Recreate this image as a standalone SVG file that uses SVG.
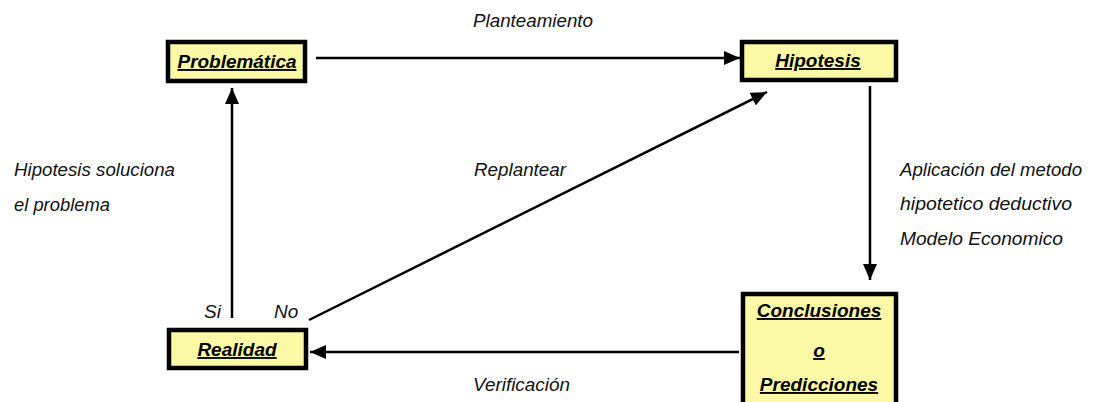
<svg xmlns="http://www.w3.org/2000/svg" width="1095" height="402" viewBox="0 0 1095 402">
<style>
.box{fill:#fbf8a6;stroke:#000;stroke-width:4.5}
.nt{font-family:"Liberation Sans",Arial,sans-serif;font-weight:bold;font-style:italic;font-size:19px;text-decoration:underline;fill:#000;text-anchor:middle}
.lb{font-family:"Liberation Sans",Arial,sans-serif;font-style:italic;font-size:19px;fill:#111}
.ln{stroke:#000;stroke-width:2.5;fill:none}
</style>
<defs>
<marker id="ah" viewBox="0 0 16 14" refX="16" refY="7" markerWidth="16" markerHeight="14" markerUnits="userSpaceOnUse" orient="auto">
<path d="M0,0 L16,7 L0,14 Z" fill="#000"/>
</marker>
</defs>
<rect width="1095" height="402" fill="#fff"/>
<g id="connectors">
<line class="ln" x1="316" y1="58" x2="740" y2="58" marker-end="url(#ah)"/>
<line class="ln" x1="870" y1="86" x2="870" y2="280" marker-end="url(#ah)"/>
<line class="ln" x1="739" y1="352" x2="310" y2="352" marker-end="url(#ah)"/>
<line class="ln" x1="232" y1="318" x2="232" y2="88" marker-end="url(#ah)"/>
<line class="ln" x1="309" y1="320" x2="767" y2="92" marker-end="url(#ah)"/>
<text class="lb" x="473" y="27" textLength="120" lengthAdjust="spacingAndGlyphs">Planteamiento</text>
<text class="lb" x="14" y="176" textLength="161" lengthAdjust="spacingAndGlyphs">Hipotesis soluciona</text>
<text class="lb" x="14" y="211" textLength="96" lengthAdjust="spacingAndGlyphs">el problema</text>
<text class="lb" x="474" y="176" textLength="92" lengthAdjust="spacingAndGlyphs">Replantear</text>
<text class="lb" x="900" y="176" textLength="182" lengthAdjust="spacingAndGlyphs">Aplicación del metodo</text>
<text class="lb" x="900" y="210" textLength="172" lengthAdjust="spacingAndGlyphs">hipotetico deductivo</text>
<text class="lb" x="900" y="245" textLength="163" lengthAdjust="spacingAndGlyphs">Modelo Economico</text>
<text class="lb" x="473" y="391" textLength="97" lengthAdjust="spacingAndGlyphs">Verificación</text>
<text class="lb" x="204" y="318">Si</text>
<text class="lb" x="274" y="318">No</text>
</g>
<g id="problematica">
<rect class="box" x="168" y="42" width="137" height="39"/>
<text class="nt" x="237" y="68" textLength="119" lengthAdjust="spacingAndGlyphs">Problemática</text>
</g>
<g id="hipotesis">
<rect class="box" x="742" y="42" width="154" height="38"/>
<text class="nt" x="818" y="67">Hipotesis</text>
</g>
<g id="conclusiones">
<rect class="box" x="743" y="294" width="153" height="120"/>
<text class="nt" x="819" y="317">Conclusiones</text>
<text class="nt" x="819" y="357">o</text>
<text class="nt" x="819" y="391">Predicciones</text>
</g>
<g id="realidad">
<rect class="box" x="169" y="330" width="137" height="38"/>
<text class="nt" x="237" y="356">Realidad</text>
</g>
</svg>
